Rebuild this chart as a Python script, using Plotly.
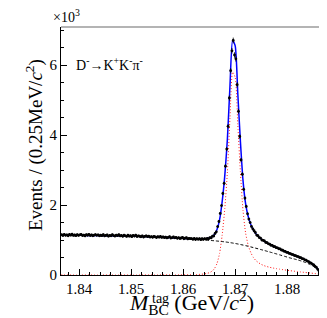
import numpy as np
import plotly.graph_objects as go

# ---- data ----
x_lo, x_hi = 1.8365, 1.8865          # fit range (GeV/c^2)
bin_width = 0.00025                  # 0.25 MeV bins

counts = [
    1150, 1128, 1162, 1135, 1147, 1121, 1158, 1139, 1166, 1132,
    1143, 1125, 1155, 1131, 1149, 1160, 1127, 1141, 1118, 1152,
    1136, 1164, 1129, 1145, 1122, 1139, 1157, 1133, 1148, 1120,
    1136, 1123, 1157, 1118, 1130, 1144, 1109, 1132, 1121, 1150,
    1128, 1112, 1140, 1123, 1150, 1117, 1131, 1105, 1136, 1120,
    1104, 1137, 1109, 1122, 1096, 1129, 1113, 1141, 1098, 1118,
    1108, 1092, 1117, 1086, 1103, 1121, 1095, 1110, 1083, 1099,
    1079, 1102, 1088, 1070, 1097, 1081, 1106, 1074, 1090, 1068,
    1084, 1060, 1077, 1093, 1055, 1071, 1086, 1062, 1078, 1049,
    1066, 1043, 1058, 1074, 1037, 1052, 1065, 1031, 1047, 1039,
    1042, 1020, 1046, 1015, 1038, 1021, 1040, 1010, 1036, 1019,
    1041, 1025, 1046, 1030, 1068, 1060, 1110, 1115, 1190, 1235,
    1385, 1530, 1760, 1985, 2330, 2620, 3110, 3600, 4250, 5060,
    5840, 6410, 6705, 6290, 6180, 5440, 4680, 3960, 3290, 2880,
    2450, 2200, 1960, 1750, 1600, 1500, 1390, 1320, 1265, 1215,
    1140, 1125, 1070, 1055, 1000, 990, 975, 930, 925, 890,
    885, 850, 848, 815, 812, 780, 778, 750, 745, 715,
    710, 680, 675, 648, 645, 618, 612, 588, 584, 558,
    555, 530, 527, 500, 494, 468, 461, 433, 425, 396,
    384, 352, 340, 305, 286, 244, 215, 162, 112, 40,
]

# fitted curves sampled every 0.5 MeV from x_lo to x_hi
curve_step = 0.0005
bkg_curve = [
    1142, 1141, 1140, 1139, 1138, 1137, 1136, 1135, 1134, 1133,
    1132, 1131, 1130, 1129, 1128, 1127, 1126, 1125, 1124, 1123,
    1122, 1121, 1119, 1118, 1116, 1114, 1112, 1110, 1108, 1106,
    1104, 1102, 1100, 1097, 1094, 1091, 1088, 1085, 1082, 1078,
    1074, 1070, 1066, 1062, 1058, 1054, 1049, 1044, 1039, 1034,
    1029, 1024, 1019, 1014, 1009, 1003, 997, 991, 985, 978,
    971, 964, 956, 947, 937, 926, 914, 901, 887, 872,
    856, 839, 821, 803, 784, 765, 745, 725, 705, 684,
    663, 642, 621, 600, 578, 556, 534, 512, 490, 471,
    452, 432, 410, 386, 358, 327, 292, 250, 195, 120, 0,
]
sig_curve = [
    0, 0, 0, 0, 0, 0, 0, 0, 0, 0,
    0, 0, 0, 0, 0, 0, 0, 0, 0, 0,
    0, 0, 0, 0, 0, 0, 0, 0, 0, 0,
    1, 1, 1, 1, 1, 1, 2, 2, 2, 2,
    2, 2, 3, 3, 3, 3, 4, 4, 4, 5,
    7, 9, 12, 16, 22, 30, 42, 65, 105, 180,
    330, 620, 1150, 1900, 2950, 4500, 5800, 5650, 4300, 2950,
    1850, 1200, 850, 640, 500, 410, 350, 305, 270, 245,
    225, 208, 193, 180, 168, 156, 145, 135, 125, 115,
    106, 97, 88, 80, 72, 64, 56, 48, 38, 26, 0,
]

y_tick_vals = [0, 2000, 4000, 6000]
y_tick_text = ["0", "2", "4", "6"]
x_tick_vals = [1.84, 1.85, 1.86, 1.87, 1.88]
x_tick_text = ["1.84", "1.85", "1.86", "1.87", "1.88"]

# ---- build ----
counts_arr = np.array(counts, dtype=float)
x_bins = x_lo + bin_width * (np.arange(len(counts)) + 0.5)
x_curve = x_lo + curve_step * np.arange(len(bkg_curve))
bkg_arr = np.array(bkg_curve, dtype=float)
sig_arr = np.array(sig_curve, dtype=float)
tot_arr = bkg_arr + sig_arr

FONT = "Liberation Serif, Times New Roman, serif"

# plot area in pixels: left 53, right 313, top 19, bottom 267
PL, PR, PT, PB = 53, 313, 19, 267


def px(xp):
    return (xp - PL) / (PR - PL)


def py(yp):
    return (PB - yp) / (PB - PT)


fig = go.Figure()

fig.add_trace(go.Scatter(
    x=x_curve, y=sig_arr, mode="lines",
    line=dict(color="#ff2020", width=1, dash="1px,2px", shape="spline", smoothing=0.6),
    hoverinfo="skip", showlegend=False))
fig.add_trace(go.Scatter(
    x=x_curve, y=bkg_arr, mode="lines",
    line=dict(color="black", width=1, dash="3px,2px", shape="spline", smoothing=0.6),
    hoverinfo="skip", showlegend=False))
fig.add_trace(go.Scatter(
    x=x_curve, y=tot_arr, mode="lines",
    line=dict(color="blue", width=1.5, shape="spline", smoothing=0.6),
    hoverinfo="skip", showlegend=False))
fig.add_trace(go.Scatter(
    x=x_bins, y=counts_arr, mode="markers",
    marker=dict(color="black", size=2.8),
    error_y=dict(type="data", array=np.sqrt(counts_arr), color="black",
                 thickness=0.8, width=0),
    hoverinfo="skip", showlegend=False))

TITLE_Y = 294.5

fig.update_layout(
    width=327, height=318,
    margin=dict(l=PL, r=327 - PR, t=PT, b=318 - PB),
    paper_bgcolor="white", plot_bgcolor="white",
    font=dict(family=FONT, color="black", size=15),
    showlegend=False,
    xaxis=dict(
        range=[x_lo, x_hi], showgrid=False, zeroline=False,
        showline=True, linecolor="black", linewidth=1,
        ticks="inside", ticklen=6, tickwidth=1, tickcolor="black",
        tickvals=x_tick_vals, ticktext=x_tick_text,
        tickfont=dict(family=FONT, size=15),
        minor=dict(dtick=0.002, tick0=1.84, ticks="inside", ticklen=3,
                   tickcolor="black", showgrid=False),
    ),
    yaxis=dict(
        range=[0, 7090], showgrid=False, zeroline=False,
        showline=True, linecolor="black", linewidth=1,
        ticks="inside", ticklen=6, tickwidth=1, tickcolor="black",
        tickvals=y_tick_vals, ticktext=y_tick_text,
        tickfont=dict(family=FONT, size=15),
        minor=dict(dtick=500, tick0=0, ticks="inside", ticklen=3,
                   tickcolor="black", showgrid=False),
    ),
    shapes=[
        dict(type="line", xref="paper", yref="paper", x0=0, x1=1, y0=1, y1=1,
             line=dict(color="#b4b4b4", width=2)),
        dict(type="line", xref="paper", yref="paper", x0=1, x1=1, y0=0, y1=1,
             line=dict(color="#808080", width=1)),
    ],
    annotations=[
        dict(text="×10<sup>3</sup>", xref="paper", yref="paper",
             x=px(43), y=py(8), xanchor="left", yanchor="middle",
             showarrow=False, font=dict(family=FONT, size=14)),
        dict(text="D<sup>-</sup>→K<sup>+</sup>K<sup>-</sup>π<sup>-</sup>",
             xref="paper", yref="paper", x=px(66), y=py(56),
             xanchor="left", yanchor="middle", showarrow=False,
             font=dict(family=FONT, size=14)),
        dict(text="<i>M</i><sub>BC</sub> (GeV/<i>c</i><sup>2</sup>)",
             xref="paper", yref="paper", x=px(183), y=py(TITLE_Y),
             xanchor="center", yanchor="middle", showarrow=False,
             font=dict(family=FONT, size=22)),
        dict(text="tag", xref="paper", yref="paper", x=px(142), y=py(TITLE_Y),
             xanchor="left", yanchor="middle", yshift=4, showarrow=False,
             font=dict(family=FONT, size=14)),
        dict(text="Events / (0.25MeV/<i>c</i><sup>2</sup>)",
             xref="paper", yref="paper", x=px(26), y=py(137),
             xanchor="center", yanchor="middle", textangle=-90,
             showarrow=False, font=dict(family=FONT, size=19)),
    ],
)

fig.write_html("out.html", config=dict(displayModeBar=False))
